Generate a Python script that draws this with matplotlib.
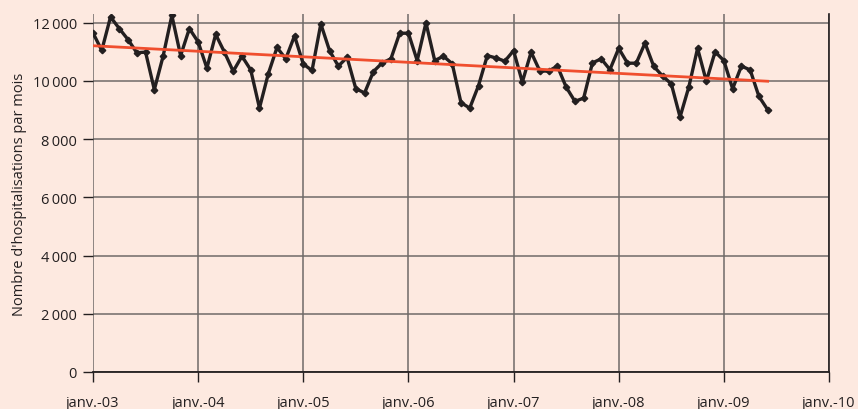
import numpy as np
import matplotlib
matplotlib.use("Agg")
import matplotlib.pyplot as plt

# ---- data ----
hospitalisations = [
    11650, 11050, 12200, 11800, 11420, 10970, 10990, 9700, 10850, 12250, 10870, 11800,   # 2003
    11340, 10440, 11600, 10990, 10330, 10850, 10380, 9070, 10240, 11150, 10760, 11550,   # 2004
    10580, 10360, 11960, 11040, 10510, 10810, 9730, 9590, 10320, 10620, 10760, 11640,    # 2005
    11640, 10700, 12000, 10700, 10850, 10590, 9250, 9070, 9840, 10870, 10790, 10680,     # 2006
    11040, 9960, 10990, 10340, 10340, 10510, 9790, 9300, 9410, 10620, 10760, 10390,      # 2007
    11120, 10610, 10610, 11300, 10500, 10170, 9900, 8760, 9790, 11120, 9990, 11000,      # 2008
    10700, 9730, 10510, 10380, 9470, 9010,                                                # 2009
]
trend_start = 11210   # tendance, janv.-03
trend_end = 9990      # tendance, juin-09
year_labels = ["janv.-03", "janv.-04", "janv.-05", "janv.-06", "janv.-07",
               "janv.-08", "janv.-09", "janv.-10"]
y_ticks = [0, 2000, 4000, 6000, 8000, 10000, 12000]
y_ticklabels = ["0", "2\u2009000", "4\u2009000", "6\u2009000", "8\u2009000",
                "10\u2009000", "12\u2009000"]

# ---- style ----
bg = "#fde9e0"
plt.rcParams["font.family"] = ["Open Sans", "DejaVu Sans"]

fig = plt.figure(figsize=(8.58, 4.10), dpi=100, facecolor=bg)
ax = fig.add_axes([93 / 858, 1 - 373 / 410, (829 - 93) / 858, (373 - 15) / 410])
ax.set_facecolor(bg)

months = np.arange(len(hospitalisations))
ax.plot(months, hospitalisations, color="#231f20", lw=2.4, marker="D",
        markersize=3.3, zorder=3)
ax.plot([months[0], months[-1]], [trend_start, trend_end], color="#f04e2e",
        lw=2, zorder=4)

ax.set_xlim(0, 84)
ax.set_ylim(0, 12300)
ax.set_xticks(np.arange(0, 85, 12))
ax.set_xticklabels(year_labels)
ax.set_yticks(y_ticks)
ax.set_yticklabels(y_ticklabels)

ax.grid(True, color="#6f6a68", lw=1.1)
ax.set_axisbelow(True)
for s in ["top", "left"]:
    ax.spines[s].set_visible(False)
ax.spines["bottom"].set_color("#231f20")
ax.spines["bottom"].set_linewidth(1.3)
ax.spines["right"].set_color("#231f20")
ax.spines["right"].set_linewidth(1.2)

ax.tick_params(axis="both", direction="out", length=7.5, width=1.0,
               color="#231f20", labelsize=10.5, labelcolor="#231f20")
ax.tick_params(axis="x", pad=9)
ax.tick_params(axis="y", pad=4)

ax.set_ylabel("Nombre d'hospitalisations par mois", fontsize=10.5,
              color="#231f20", labelpad=4)

fig.savefig("out.png", dpi=100, facecolor=bg)
